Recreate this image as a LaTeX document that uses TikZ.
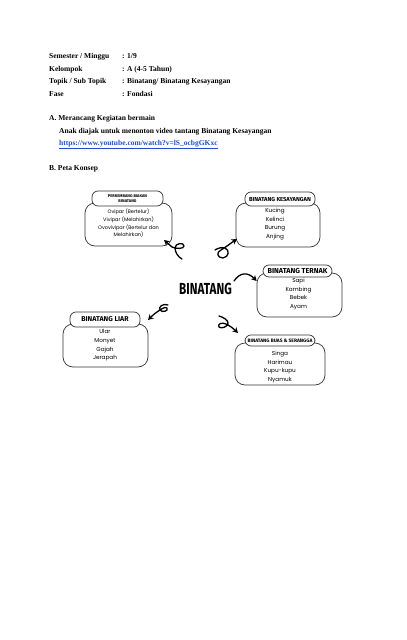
\documentclass[tikz,border=0pt]{standalone}
\usepackage{fontspec}
\setmainfont{Liberation Serif}
\newfontfamily\itemfont{Poppins}
\newfontfamily\titlefont{Fira Sans}
\newfontfamily\bigfont[FakeStretch=0.73]{Fira Sans}
\usetikzlibrary{arrows.meta}
\definecolor{ink}{HTML}{333333}
\definecolor{linkblue}{HTML}{1F4FC4}
\begin{document}
\begin{tikzpicture}[x=1pt,y=-1pt,
  lbl/.style={anchor=base west,inner sep=0pt,font=\fontsize{7.5}{9}\selectfont\bfseries},
  body/.style={draw=ink,fill=white,line width=0.7pt,rounded corners=10pt,inner sep=0pt},
  tab/.style={draw=ink,fill=white,line width=0.7pt,rounded corners=6pt,inner sep=0pt,align=center,text=black},
  items/.style={align=center,inner sep=0pt,font=\itemfont\fontsize{5.7}{8.6}\selectfont},
  squig/.style={draw=black,line width=1.3pt,line cap=round,line join=round,-{Stealth[length=5.5pt,width=6pt]}}
]
\useasboundingbox[fill=white] (0,0) rectangle (407,640);

% header text
\node[lbl] (sem) at (49,58.5) {Semester / Minggu};
\node[lbl] (semv) at (122,58.5) {: 1/9};
\node[lbl] (kel) at (49,71) {Kelompok};
\node[lbl] (kelv) at (122,71) {: A (4-5 Tahun)};
\node[lbl] (top) at (49,83.5) {Topik / Sub Topik};
\node[lbl] (topv) at (122,83.5) {: Binatang/ Binatang Kesayangan};
\node[lbl] (fas) at (49,96) {Fase};
\node[lbl] (fasv) at (122,96) {: Fondasi};
\node[lbl] (secA) at (49,120.5) {A. Merancang Kegiatan bermain};
\node[lbl] (anak) at (59,133) {Anak diajak untuk menonton video tantang Binatang Kesayangan};
\node[lbl,text=linkblue] (link) at (59,145.5) {\underline{https://www.youtube.com/watch?v=lS\_ocbgGKxc}};
\node[lbl] (secB) at (49,170.5) {B. Peta Konsep};

% center
\node[inner sep=0pt,font=\bigfont\bfseries\fontsize{16}{16}\selectfont] (bin) at (205.5,288.5) {BINATANG};

% Perkembangbiakan
\node[body,minimum width=87pt,minimum height=43pt] (pb) at (128.5,224.5) {};
\node[tab,minimum width=71pt,minimum height=15pt,font=\titlefont\bfseries\fontsize{4}{5.2}\selectfont] (pbt) at (127.5,198.5) {PERKEMBANG BIAKAN\\BINATANG};
\node[items,font=\itemfont\fontsize{5}{7.7}\selectfont] (pbi) at (128.5,223.5) {Ovipar (Bertelur)\\Vivipar (Melahirkan)\\Ovovivipar (Bertelur dan\\Melahirkan)};

% Kesayangan
\node[body,minimum width=84pt,minimum height=44pt] (kes) at (278,225) {};
\node[tab,minimum width=70pt,minimum height=14pt,font=\titlefont\bfseries\fontsize{5.8}{7}\selectfont] (kest) at (280,199) {BINATANG KESAYANGAN};
\node[items] (kesi) at (275,224) {Kucing\\Kelinci\\Burung\\Anjing};

% Ternak
\node[body,minimum width=85pt,minimum height=44pt] (ter) at (299.5,295) {};
\node[tab,minimum width=69pt,minimum height=12pt,font=\titlefont\bfseries\fontsize{7.2}{8}\selectfont] (tert) at (297.5,271) {BINATANG TERNAK};
\node[items] (teri) at (298.5,294) {Sapi\\Kambing\\Bebek\\Ayam};

% Buas
\node[body,minimum width=90pt,minimum height=42pt] (bua) at (280,364) {};
\node[tab,minimum width=70pt,minimum height=11pt,font=\titlefont\bfseries\fontsize{4.9}{6}\selectfont] (buat) at (280,340.5) {BINATANG BUAS \& SERANGGA};
\node[items] (buai) at (280,367) {Singa\\Harimau\\Kupu-kupu\\Nyamuk};

% Liar
\node[body,minimum width=85pt,minimum height=43pt] (lia) at (105.5,345.5) {};
\node[tab,minimum width=70pt,minimum height=15pt,font=\titlefont\bfseries\fontsize{7}{8}\selectfont] (liat) at (105,319.5) {BINATANG LIAR};
\node[items] (liai) at (105,345.5) {Ular\\Monyet\\Gajah\\Jerapah};

% squiggly arrows
\coordinate (a1s) at (182,259); \coordinate (a1e) at (164,240);
\draw[squig] (a1s) .. controls (178,257) and (175,252) .. (175,248)
  .. controls (175,243) and (184,242) .. (184,246)
  .. controls (184,249) and (176,249) .. (172,247)
  -- (a1e);

\coordinate (a2s) at (215,250); \coordinate (a2e) at (237,239);
\draw[squig] (a2s) .. controls (218,248) and (222,247) .. (225,248)
  .. controls (230,250) and (229,257) .. (223,258)
  .. controls (217,258) and (216,252) .. (221,250)
  .. controls (226,247) and (231,243) .. (a2e);

\coordinate (a3s) at (168,305); \coordinate (a3e) at (148,320);
\draw[squig] (a3s) .. controls (163,303) and (158,307) .. (160,310)
  .. controls (162,313) and (169,311) .. (167,308)
  .. controls (165,306) and (160,310) .. (157,312)
  .. controls (154,314) and (151,317) .. (a3e);

\coordinate (a4s) at (219,316); \coordinate (a4e) at (238,333);
\draw[squig] (a4s) .. controls (223,317) and (228,320) .. (228,323)
  .. controls (228,327) and (221,329) .. (219,327)
  .. controls (217,324) and (222,322) .. (226,324)
  .. controls (230,326) and (233,328) .. (a4e);

\coordinate (a5s) at (234,281);
\draw[squig] (a5s) .. controls (240,272) and (248,272) .. (ter.west |- 0,281);
\end{tikzpicture}
\end{document}
